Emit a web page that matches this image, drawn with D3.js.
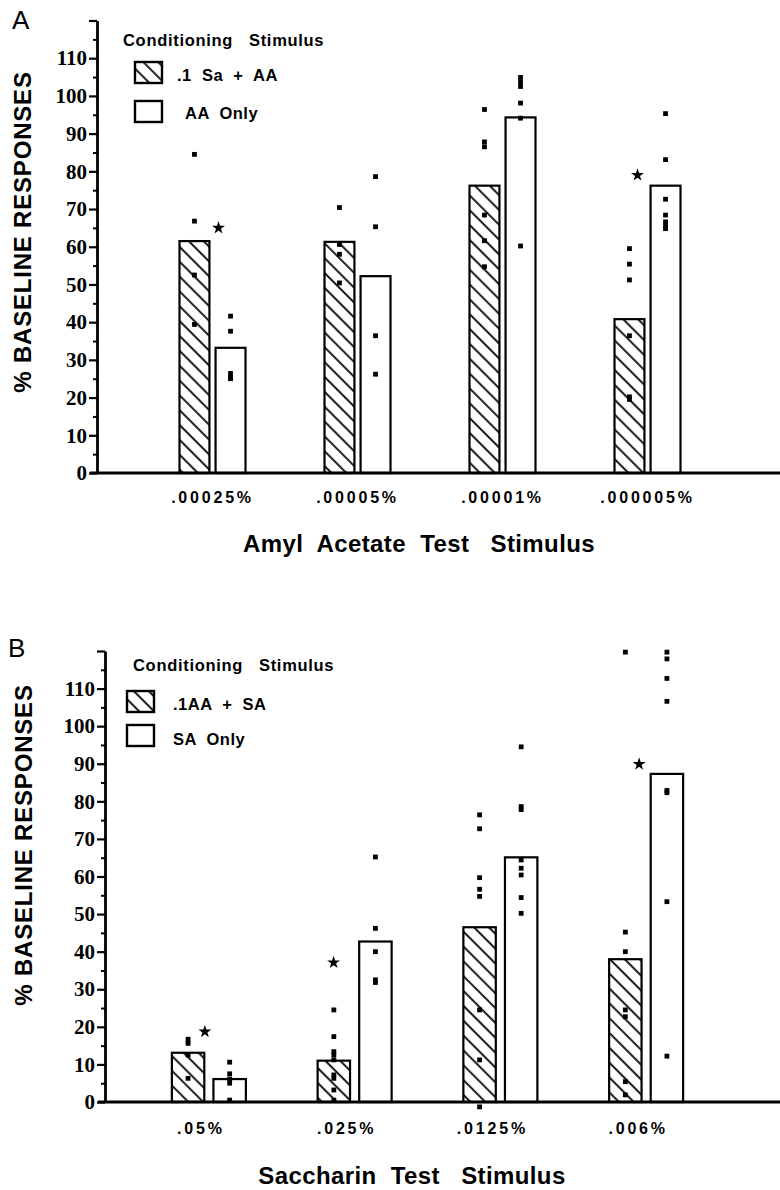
<!DOCTYPE html>
<html><head><meta charset="utf-8">
<script src="https://cdn.jsdelivr.net/npm/d3@7"></script>
<style>body{margin:0;background:#fff} svg{display:block}</style>
</head><body>
<svg id="chart" width="780" height="1190"></svg>
<script>
// ---------- DATA ----------
const yTicks = [0, 10, 20, 30, 40, 50, 60, 70, 80, 90, 100, 110];
const yMinorTicks = [5, 15, 25, 35, 45, 55, 65, 75, 85, 95, 105, 115];

// Panel A
const categoriesA = [".00025%", ".00005%", ".00001%", ".000005%"];
const seriesA = [".1  Sa  +  AA", "AA  Only"];
const meansA_pair = [61.5, 61.3, 76.2, 40.8];
const meansA_only = [33.2, 52.2, 94.3, 76.2];
const pointsA_pair = [
  [84.5, 66.8, 52.5, 39.4],
  [70.4, 60.6, 58.0, 50.4],
  [96.4, 87.8, 86.5, 68.4, 61.6, 54.7],
  [59.5, 55.4, 51.2, 36.4, 20.2, 19.5]
];
const pointsA_only = [
  [41.6, 37.6, 26.4, 25.4, 25.0],
  [78.6, 65.3, 36.4, 26.2],
  [104.9, 103.7, 102.5, 98.1, 94.1, 60.2],
  [95.3, 83.1, 72.6, 68.4, 66.6, 65.5, 64.8]
];
const starsA_cat = [".00025%", ".000005%"];
const starsA_val = [65, 79];

// Panel B
const categoriesB = [".05%", ".025%", ".0125%", ".006%"];
const seriesB = [".1AA  +  SA", "SA  Only"];
const meansB_pair = [13.1, 11.0, 46.5, 38.0];
const meansB_only = [6.1, 42.7, 65.1, 87.3];
const pointsB_pair = [
  [16.7, 15.6, 12.5, 6.3],
  [24.5, 17.4, 13.4, 12.5, 11.2, 7.2, 6.3, 3.2, 0.5],
  [76.4, 72.7, 59.7, 56.6, 54.7, 24.5, 11.2, -1.3],
  [119.7, 45.2, 40.0, 24.5, 22.7, 5.4, 1.9]
];
const pointsB_only = [
  [10.6, 7.5, 6.1, 5.0, 0.5],
  [65.2, 46.2, 40.0, 32.5, 31.8],
  [94.5, 78.6, 77.8, 64.4, 62.2, 60.4, 54.4, 50.2],
  [119.7, 117.9, 112.7, 106.6, 82.9, 82.3, 53.3, 12.2]
];
const starsB_cat = [".05%", ".025%", ".006%"];
const starsB_val = [18.7, 37.1, 89.9];

// ---------- DRAW ----------
const svg = d3.select("#chart");
const defs = svg.append("defs");
const pat = defs.append("pattern").attr("id", "hatch")
  .attr("patternUnits", "userSpaceOnUse")
  .attr("width", 10.5).attr("height", 10.5)
  .attr("patternTransform", "rotate(-45)");
pat.append("rect").attr("width", 10.5).attr("height", 10.5).attr("fill", "#fff");
pat.append("line").attr("x1", 5).attr("y1", -1).attr("x2", 5).attr("y2", 12)
  .attr("stroke", "#000").attr("stroke-width", 1.8);

const SANS = "Liberation Sans, Arial, Helvetica, sans-serif";

function panel(o) {
  const g = svg.append("g");
  const y = d3.scaleLinear().domain([0, 120]).range([o.y0, o.yTop]);
  const x = d3.scaleBand().domain(o.categories).range(o.xRange);
  const xs = d3.scaleBand().domain([0, 1]).range([-o.pairWidth / 2, o.pairWidth / 2]).paddingInner(o.pairPad);
  const cx = c => x(c) + x.bandwidth() / 2;
  const bw = xs.bandwidth();

  // panel letter
  g.append("text").attr("x", o.letterX).attr("y", o.letterY)
    .attr("font-family", SANS).attr("font-size", 26).text(o.letter);

  // bars
  const bars = [];
  o.categories.forEach((c, i) => {
    bars.push({c, s: 0, v: o.means[0][i], pts: o.points[0][i]});
    bars.push({c, s: 1, v: o.means[1][i], pts: o.points[1][i]});
  });
  g.selectAll("rect.bar").data(bars).join("rect").attr("class", "bar")
    .attr("x", d => cx(d.c) + xs(d.s))
    .attr("width", bw)
    .attr("y", d => y(d.v))
    .attr("height", d => y(0) - y(d.v))
    .attr("fill", d => d.s === 0 ? "url(#hatch)" : "#fff")
    .attr("stroke", "#000").attr("stroke-width", 2.2);

  // individual points
  const pts = [];
  bars.forEach(b => b.pts.forEach(v => pts.push({c: b.c, s: b.s, v})));
  g.selectAll("rect.pt").data(pts).join("rect").attr("class", "pt")
    .attr("x", d => cx(d.c) + xs(d.s) + bw / 2 - 2.4)
    .attr("y", d => y(d.v) - 2.4)
    .attr("width", 4.8).attr("height", 4.8).attr("fill", "#000");

  // significance stars
  const stars = o.starCat.map((c, i) => ({c, v: o.starVal[i], dx: o.starDx[i]}));
  g.selectAll("path.star").data(stars).join("path").attr("class", "star")
    .attr("d", d3.symbol(d3.symbolStar, 52))
    .attr("transform", d => `translate(${cx(d.c) + d.dx},${y(d.v)})`)
    .attr("fill", "#000");

  // y axis
  const ya = g.append("g").attr("transform", `translate(${o.axisX},0)`)
    .call(d3.axisLeft(y).tickValues(yTicks.concat([120])).tickSize(8).tickSizeOuter(0)
      .tickPadding(2).tickFormat(d => d === 120 ? "" : d));
  ya.select(".domain").attr("stroke-width", 2.8);
  ya.selectAll(".tick line").attr("stroke-width", 2.2);
  ya.selectAll("text").attr("font-family", "Liberation Serif, Times New Roman, serif")
    .attr("font-weight", "bold").attr("font-size", 21).attr("fill", "#000");
  const ym = g.append("g").attr("transform", `translate(${o.axisX},0)`)
    .call(d3.axisLeft(y).tickValues(yMinorTicks).tickSize(4).tickFormat(""));
  ym.select(".domain").remove();
  ym.selectAll(".tick line").attr("stroke-width", 2);

  // x baseline
  g.append("line").attr("x1", o.axisX - 7).attr("x2", 780)
    .attr("y1", y(0)).attr("y2", y(0)).attr("stroke", "#000").attr("stroke-width", 2.8);
  const xa = g.append("g").attr("transform", `translate(${o.labelDx},${y(0)})`)
    .call(d3.axisBottom(x).tickSize(0).tickPadding(o.labelPad));
  xa.select(".domain").remove();
  xa.selectAll("text").attr("font-family", SANS)
    .attr("font-weight", "bold").attr("font-size", 16).attr("letter-spacing", 2.8)
    .attr("fill", "#000");

  // x title
  g.append("text").attr("x", o.xTitleX).attr("y", o.xTitleY)
    .attr("text-anchor", "middle").attr("font-family", SANS)
    .attr("font-weight", "bold").attr("font-size", 24).attr("letter-spacing", 0.4)
    .style("white-space", "pre").text(o.xTitle);

  // y title
  g.append("text").attr("transform", `translate(${o.yTitleX},${o.yTitleY}) rotate(-90)`)
    .attr("text-anchor", "middle").attr("font-family", SANS)
    .attr("font-weight", "bold").attr("font-size", 24).attr("letter-spacing", 0.8)
    .text("% BASELINE RESPONSES");

  // legend
  const lg = g.append("g");
  lg.append("text").attr("x", o.legX).attr("y", o.legY)
    .attr("font-family", SANS).attr("font-weight", "bold").attr("letter-spacing", 0.7)
    .attr("font-size", 16.5).style("white-space", "pre").text("Conditioning   Stimulus");
  o.series.forEach((s, i) => {
    lg.append("rect").attr("x", o.boxX).attr("y", o.boxY[i]).attr("width", 27).attr("height", 21)
      .attr("fill", i === 0 ? "url(#hatch)" : "#fff").attr("stroke", "#000").attr("stroke-width", 2.4);
    lg.append("text").attr("x", o.itemX[i]).attr("y", o.itemY[i])
      .attr("font-family", SANS).attr("font-weight", "bold").attr("letter-spacing", 0.5)
      .attr("font-size", 16.5).style("white-space", "pre").text(s);
  });
}

panel({
  letter: "A", letterX: 12, letterY: 29,
  categories: categoriesA, series: seriesA,
  means: [meansA_pair, meansA_only], points: [pointsA_pair, pointsA_only],
  starCat: starsA_cat, starVal: starsA_val, starDx: [6, -10],
  y0: 473, yTop: 20.5, axisX: 97,
  xRange: [140, 720], pairWidth: 66, pairPad: 0.17,
  labelDx: 0, labelPad: 19,
  xTitle: "Amyl  Acetate  Test   Stimulus", xTitleX: 419, xTitleY: 552,
  yTitleX: 31, yTitleY: 232,
  legX: 123, legY: 46, boxX: 135, boxY: [62, 101], itemX: [177, 185], itemY: [81, 119]
});

panel({
  letter: "B", letterX: 8, letterY: 657,
  categories: categoriesB, series: seriesB,
  means: [meansB_pair, meansB_only], points: [pointsB_pair, pointsB_only],
  starCat: starsB_cat, starVal: starsB_val, starDx: [-4, -21, -7],
  y0: 1102, yTop: 651, axisX: 105,
  xRange: [136, 719], pairWidth: 74, pairPad: 0.22,
  labelDx: -8, labelPad: 21,
  xTitle: "Saccharin  Test   Stimulus", xTitleX: 412, xTitleY: 1184,
  yTitleX: 32, yTitleY: 845,
  legX: 133, legY: 671, boxX: 127, boxY: [691, 725], itemX: [173, 173], itemY: [710, 745]
});
</script>
</body></html>
